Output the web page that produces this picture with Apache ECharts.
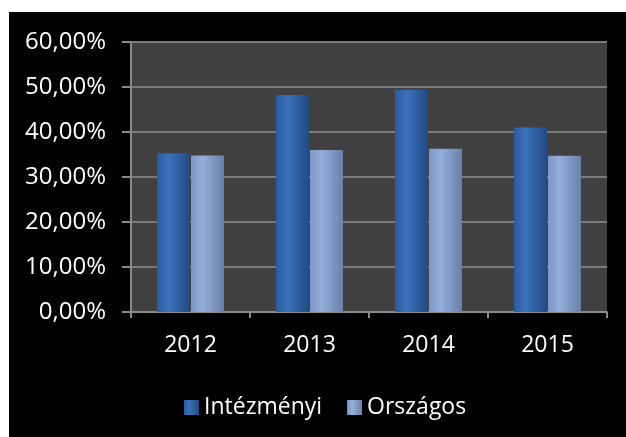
<!DOCTYPE html>
<html>
<head>
<meta charset="utf-8">
<script src="https://cdn.jsdelivr.net/npm/echarts@6/dist/echarts.min.js"></script>
<style>
  body { margin: 0; background: #fff; }
  #chart { position: absolute; left: 9px; top: 12px; width: 617px; height: 425px; background: #000; }
</style>
</head>
<body>
<div id="chart"></div>
<script>
// years on the x axis
var years = ['2012', '2013', '2014', '2015'];
// percent values
var intezmenyi = [35.3, 48.2, 49.4, 41.0];
var orszagos = [34.8, 36.0, 36.3, 34.7];
var seriesNames = ['Intézményi', 'Országos'];

var chart = echarts.init(document.getElementById('chart'));

function grad(c1, c2, c3) {
  return new echarts.graphic.LinearGradient(0, 0, 1, 0, [
    { offset: 0, color: c1 },
    { offset: 0.35, color: c2 },
    { offset: 1, color: c3 }
  ]);
}

var option = {
  backgroundColor: '#000',
  textStyle: { fontFamily: 'Open Sans' },
  grid: {
    left: 122, top: 30, right: 19, bottom: 125,
    show: true, backgroundColor: '#404040', borderWidth: 0
  },
  legend: {
    left: 170, top: 379,
    itemWidth: 15, itemHeight: 15, itemGap: 25,
    icon: 'rect',
    textStyle: { color: '#fff', fontSize: 23, fontFamily: 'Open Sans' },
    data: seriesNames
  },
  xAxis: {
    type: 'category',
    data: years,
    axisLine: { lineStyle: { color: '#8a8a8a', width: 2 } },
    axisTick: { show: true, length: 6, lineStyle: { color: '#8a8a8a', width: 2 } },
    axisLabel: { color: '#fff', fontSize: 23, margin: 22 }
  },
  yAxis: {
    type: 'value',
    min: 0, max: 60, interval: 10,
    axisLine: { show: true, lineStyle: { color: '#8a8a8a', width: 2 } },
    axisTick: { show: true, length: 9, lineStyle: { color: '#8a8a8a', width: 2 } },
    splitLine: { lineStyle: { color: '#7a7a7a', width: 2 } },
    axisLabel: {
      color: '#fff', fontSize: 24, margin: 25,
      formatter: function (v) { return v.toFixed(2).replace('.', ',') + '%'; }
    }
  },
  series: [
    {
      name: seriesNames[0],
      type: 'bar',
      data: intezmenyi,
      barWidth: 33,
      barGap: '3%',
      itemStyle: { color: grad('#2a5c9e', '#3a72bb', '#214a82') }
    },
    {
      name: seriesNames[1],
      type: 'bar',
      data: orszagos,
      barWidth: 33,
      itemStyle: { color: grad('#7e96c4', '#95aedc', '#6a80aa') }
    }
  ]
};

chart.setOption(option);
</script>
</body>
</html>
